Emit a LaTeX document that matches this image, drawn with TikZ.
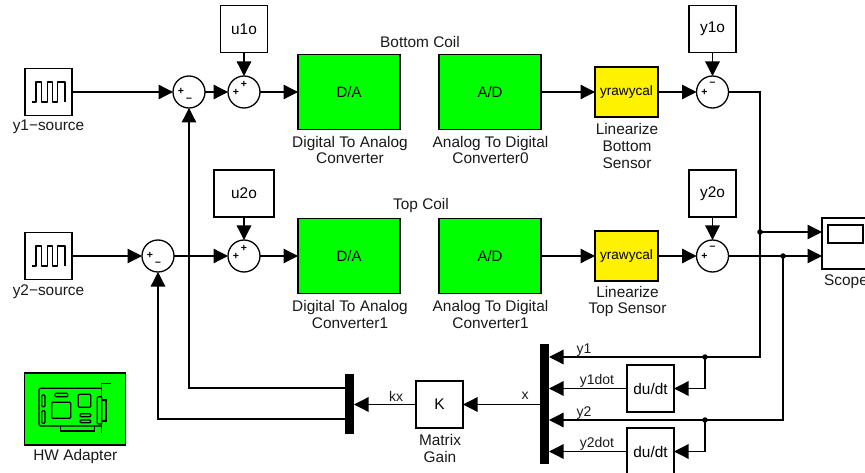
\documentclass[tikz,border=0pt]{standalone}
\usepackage{fontspec}
\setmainfont{Liberation Sans}
\usetikzlibrary{arrows.meta,calc}
\tikzset{
  wire/.style={line width=1.3pt},
  arr/.style={wire,-{Triangle[length=14.5pt,width=14.5pt]}},
  blockbox/.style={draw,line width=1.3pt,fill=white,inner sep=0pt,outer sep=0pt,minimum width=47pt,minimum height=47pt},
  greenbox/.style={blockbox,fill=green,minimum width=102pt,minimum height=75pt,font=\fontsize{15}{16}\selectfont},
  yellowbox/.style={blockbox,line width=1.6pt,fill=yellow,minimum width=63pt,minimum height=50pt,font=\fontsize{13.6}{16}\selectfont},
  sumnode/.style={circle,draw,line width=1.3pt,fill=white,inner sep=0pt,outer sep=0pt,minimum size=32pt},
  barnode/.style={fill=black,inner sep=0pt,outer sep=0pt,minimum width=9pt},
  lbl/.style={inner sep=0pt,align=center,text=black!90},
  wlbl/.style={lbl,font=\fontsize{14}{16}\selectfont},
  sgn/.style={inner sep=0pt,font=\fontsize{10.5}{10}\selectfont\bfseries},
  dot/.style={circle,fill=black,inner sep=0pt,minimum size=5.5pt},
  icon/.style={line width=1.2pt}
}
\begin{document}
\begin{tikzpicture}[x=1pt,y=-1pt,font=\fontsize{15.4}{16.6}\selectfont]
\useasboundingbox (0,0) rectangle (865,473);
\clip (0,0) rectangle (865,473);
% blocks
\node[blockbox] (src1) at (48.5,92) {};
\node[blockbox] (src2) at (48.5,256) {};
\node[blockbox] (u1o) at (244,29) {u1o};
\node[blockbox,minimum width=60pt] (u2o) at (244,193.5) {u2o};
\node[blockbox] (y1o) at (712.5,29) {y1o};
\node[blockbox] (y2o) at (712.5,193.5) {y2o};
\node[sumnode] (s1a) at (189,92) {};
\node[sumnode] (s1b) at (244,92) {};
\node[sumnode] (s2a) at (158,256) {};
\node[sumnode] (s2b) at (244,256) {};
\node[sumnode] (s1c) at (712.5,92) {};
\node[sumnode] (s2c) at (712.5,256) {};
\node[greenbox] (da1) at (349,92) {D/A};
\node[greenbox] (ad1) at (490,92) {A/D};
\node[greenbox] (da2) at (349,256) {D/A};
\node[greenbox] (ad2) at (490,256) {A/D};
\node[yellowbox] (yc1) at (626.5,92) {yrawycal};
\node[yellowbox] (yc2) at (626.5,256) {yrawycal};
\node[blockbox,minimum height=51pt,anchor=north west] (scope) at (822,218) {};
\draw[line width=1.3pt] (828,225) rectangle (863,243);
\node[blockbox] (du1) at (650.5,388.5) {du/dt};
\node[blockbox] (du2) at (650.5,451.5) {du/dt};
\node[blockbox] (gain) at (439.5,404.5) {K};
\node[barnode,minimum height=120pt] (mux) at (544.5,404) {};
\node[barnode,minimum height=60pt] (demux) at (349.5,404) {};
\node[blockbox,line width=1.6pt,fill=green,minimum width=101pt,minimum height=72pt] (hw) at (75,409) {};
% labels
\node[lbl] (l1) at (48.5,127) {y1−source};
\node[lbl] (l2) at (48.5,291.5) {y2−source};
\node[lbl] (l3) at (350,150) {Digital To Analog\\Converter};
\node[lbl] (l4) at (490.5,150) {Analog To Digital\\Converter0};
\node[lbl] (l5) at (350,314.5) {Digital To Analog\\Converter1};
\node[lbl] (l6) at (490.5,314.5) {Analog To Digital\\Converter1};
\node[lbl] (l7) at (627,146) {Linearize\\Bottom\\Sensor};
\node[lbl] (l8) at (627.5,301.5) {Linearize\\Top Sensor};
\node[lbl] (l9) at (420,41.5) {Bottom Coil};
\node[lbl] (l10) at (421,206) {Top Coil};
\node[lbl,anchor=west] (l11) at (824,282) {Scope};
\node[lbl] (l12) at (440,448.5) {Matrix\\Gain};
\node[lbl] (l13) at (75.3,457) {HW Adapter};
\node[wlbl] (w1) at (396,396) {kx};
\node[wlbl] (w2) at (525,396) {x};
\node[wlbl] (w3) at (584,350) {y1};
\node[wlbl] (w4) at (597,381) {y1dot};
\node[wlbl] (w5) at (584,413) {y2};
\node[wlbl] (w6) at (597,444) {y2dot};
% signs
\node[sgn] (p1) at (181,91.5) {+};
\node[sgn] (m1) at (189,99.5) {–};
\node[sgn] (p2) at (236,92) {+};
\node[sgn] (p3) at (244,84) {+};
\node[sgn] (p4) at (150,255.5) {+};
\node[sgn] (m2) at (158,263.5) {–};
\node[sgn] (p5) at (236,256) {+};
\node[sgn] (p6) at (244,248) {+};
\node[sgn] (p7) at (704.5,92) {+};
\node[sgn] (m3) at (712.5,83.5) {–};
\node[sgn] (p8) at (704.5,256) {+};
\node[sgn] (m4) at (712.5,247.5) {–};
% junctions
\node[dot] (j1) at (760,232) {};
\node[dot] (j2) at (783,256) {};
\node[dot] (j3) at (705,357) {};
\node[dot] (j4) at (705,420) {};
\coordinate (dm1) at (345,388);
\coordinate (dm2) at (345,419);
% connectors
\draw[arr] (src1.east) -- (s1a.west);
\draw[arr] (s1a.east) -- (s1b.west);
\draw[arr] (s1b.east) -- (da1.west);
\draw[arr] (u1o.south) -- (s1b.north);
\draw[arr] (ad1.east) -- (yc1.west);
\draw[arr] (yc1.east) -- (s1c.west);
\draw[arr] (y1o.south) -- (s1c.north);
\draw[arr] (src2.east) -- (s2a.west);
\draw[arr] (s2a.east) -- (s2b.west);
\draw[arr] (s2b.east) -- (da2.west);
\draw[arr] (u2o.south) -- (s2b.north);
\draw[arr] (ad2.east) -- (yc2.west);
\draw[arr] (yc2.east) -- (s2c.west);
\draw[arr] (y2o.south) -- (s2c.north);
\draw[wire] (s1c.east) -| (j1.center);
\draw[arr] (j1.center) -- (j1.center -| scope.west);
\draw[arr] (s2c.east) -- (s2c.center -| scope.west);
\draw[arr] (j1.center) |- (j3.center) -- (j3.center -| mux.east);
\draw[arr] (j2.center) |- (j4.center) -- (j4.center -| mux.east);
\draw[arr] (j3.center) |- (du1.east);
\draw[arr] (j4.center) |- (du2.east);
\draw[arr] (du1.west) -- (du1.west -| mux.east);
\draw[arr] (du2.west) -- (du2.west -| mux.east);
\draw[arr] (mux.west |- gain.east) -- (gain.east);
\draw[arr] (gain.west) -- (gain.west -| demux.east);
\draw[arr] (dm1) -| (s1a.south);
\draw[arr] (dm2) -| (s2a.south);
% pulse icons
\foreach \yy in {0,164}{
  \begin{scope}[yshift=-\yy pt]
  \draw[icon,line join=round] (31.5,102) -- (36,102) -- (36,82) -- (41.7,82) -- (41.7,102) -- (47.7,102) -- (47.7,82) -- (52.7,82) -- (52.7,102) -- (57.3,102) -- (57.3,82) -- (65,82) -- (65,102);
  \end{scope}
}
% adapter icon
\draw[icon,rounded corners=1.5pt] (101.7,388.3) -- (39,388.3) -- (39,426) -- (101.7,426);
\draw[icon] (110.7,383.5) -- (101.7,383.5) -- (101.7,433);
\draw[icon] (60.7,426) -- (60.7,431) -- (94.3,431) -- (94.3,426);
\draw[icon,rounded corners=1pt] (97.3,396.7) rectangle (101.7,424);
\draw[icon] (101.7,400) -- (106,400) -- (106,421) -- (101.7,421);
\draw[icon,rounded corners=1pt] (41.7,395) rectangle (45,406.7);
\draw[icon,rounded corners=1pt] (41.7,410.7) rectangle (45,423.3);
\draw[icon,rounded corners=1pt] (55,393.3) rectangle (67.7,396.7);
\draw[icon,rounded corners=1pt] (51.7,402.3) rectangle (70.7,418.3);
\draw[icon,rounded corners=1pt] (78.3,394.3) rectangle (90.7,407.3);
\draw[icon,rounded corners=1pt] (80,413.7) rectangle (90.7,416.7);
\draw[icon,rounded corners=1pt] (80,420) rectangle (90.7,422.7);
\end{tikzpicture}
\end{document}
